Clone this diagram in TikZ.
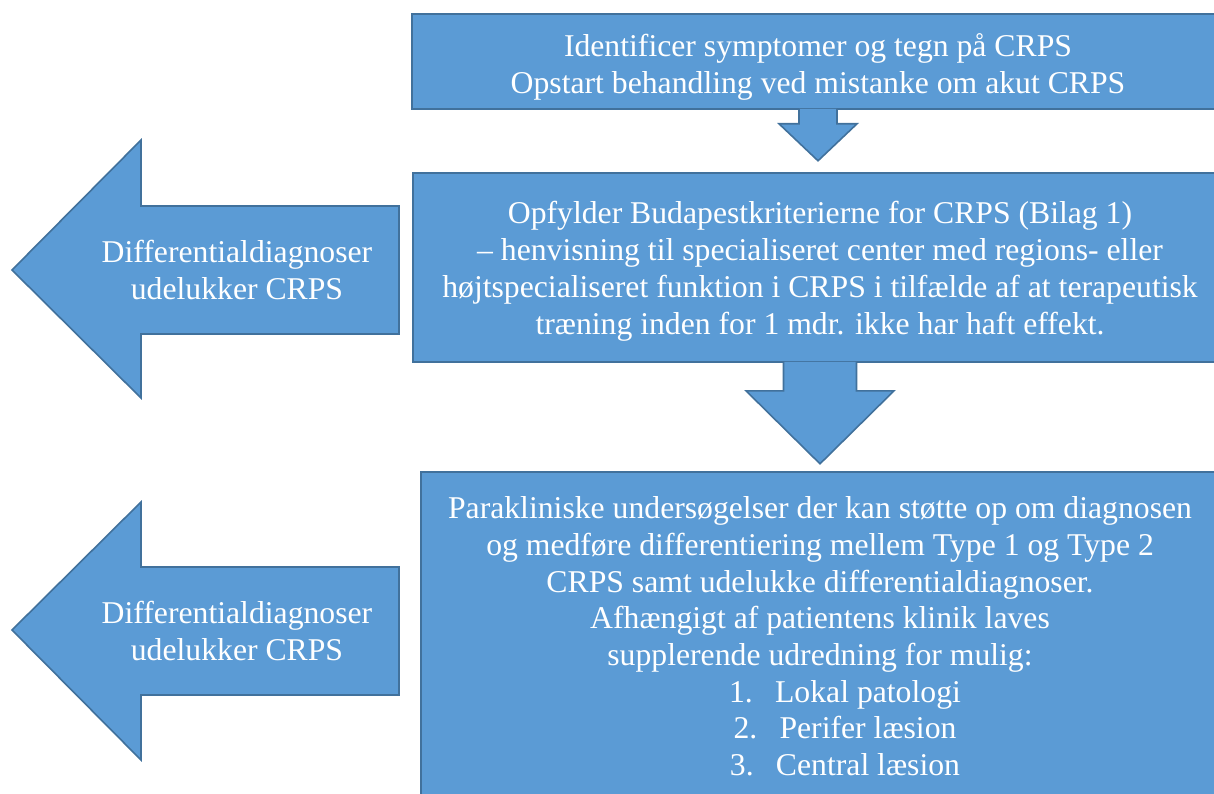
\documentclass[tikz,border=0pt]{standalone}
\usepackage{fontspec}
\setmainfont{Liberation Serif}
\usetikzlibrary{positioning, calc}
\definecolor{boxblue}{HTML}{5B9BD5}
\definecolor{boxedge}{HTML}{41719C}
\tikzset{
every node/.style={text=white, font=\rmfamily\fontsize{31.7}{36.7}\selectfont, align=center},
box/.style={draw=boxedge, fill=boxblue, line width=1.6pt, inner sep=0pt},
blockarrow/.style={draw=boxedge, fill=boxblue, line width=1.6pt, line join=miter},
}
\newcommand{\nr}[1]{\hspace*{50pt}\makebox[46pt][l]{#1}}

\begin{document}
\begin{tikzpicture}[x=1pt, y=-1pt]
    \useasboundingbox (0,0) rectangle (1214,794);
    \clip (0,0) rectangle (1214,794);

    % the three boxes on the right
    \node[box, minimum width=812pt, minimum height=95pt] (ident) at (818,61.5) {};
    \node[box, minimum width=814pt, minimum height=189pt] (budapest) at (820,267.5) {};
    \node[box, minimum width=798pt, minimum height=334pt] (parakl) at (820,639) {};

    \node (identText) at ($(ident.center)+(0,5.5)$)
        {Identificer symptomer og tegn på CRPS\\Opstart behandling ved mistanke om akut CRPS};
    \node (budapestText) at ($(budapest.center)+(0,3.8)$)
        {Opfylder Budapestkriterierne for CRPS (Bilag 1)\\
         -- henvisning til specialiseret center med regions- eller\\
         højtspecialiseret funktion i CRPS i tilfælde af at terapeutisk\\
         træning inden for 1 mdr. ikke har haft effekt.};
    \node (paraklText) at ($(parakl.center)+(0,-2.7)$)
        {Parakliniske undersøgelser der kan støtte op om diagnosen\\
         og medføre differentiering mellem Type 1 og Type 2\\
         CRPS samt udelukke differentialdiagnoser.\\
         Afhængigt af patientens klinik laves\\
         supplerende udredning for mulig:\\
         \nr{1.}Lokal patologi\\
         \nr{2.}Perifer læsion\\
         \nr{3.}Central læsion};

    % down arrows between the boxes
    \filldraw[blockarrow]
        ($(ident.south)+(-19,-1)$) -- ($(ident.south)+(-19,14)$) -- ($(ident.south)+(-39,14)$)
        -- ($(ident.south)+(0,51)$) -- ($(ident.south)+(39,14)$) -- ($(ident.south)+(19,14)$)
        -- ($(ident.south)+(19,-1)$);
    \filldraw[blockarrow]
        ($(budapest.south)+(-36.5,-1)$) -- ($(budapest.south)+(-36.5,28)$) -- ($(budapest.south)+(-74,28)$)
        -- ($(budapest.south)+(0,101)$) -- ($(budapest.south)+(74,28)$) -- ($(budapest.south)+(36.5,28)$)
        -- ($(budapest.south)+(36.5,-1)$);

    % left arrows
    \filldraw[blockarrow] (399,206) -- (141,206) -- (141,140) -- (12,270)
        -- (141,398) -- (141,334) -- (399,334) -- cycle;
    \node (diffA) at (237,270.3) {Differentialdiagnoser\\udelukker CRPS};

    \filldraw[blockarrow] (399,567) -- (141,567) -- (141,502) -- (12,630)
        -- (141,760) -- (141,695) -- (399,695) -- cycle;
    \node (diffB) at (237,630.8) {Differentialdiagnoser\\udelukker CRPS};
\end{tikzpicture}
\end{document}
